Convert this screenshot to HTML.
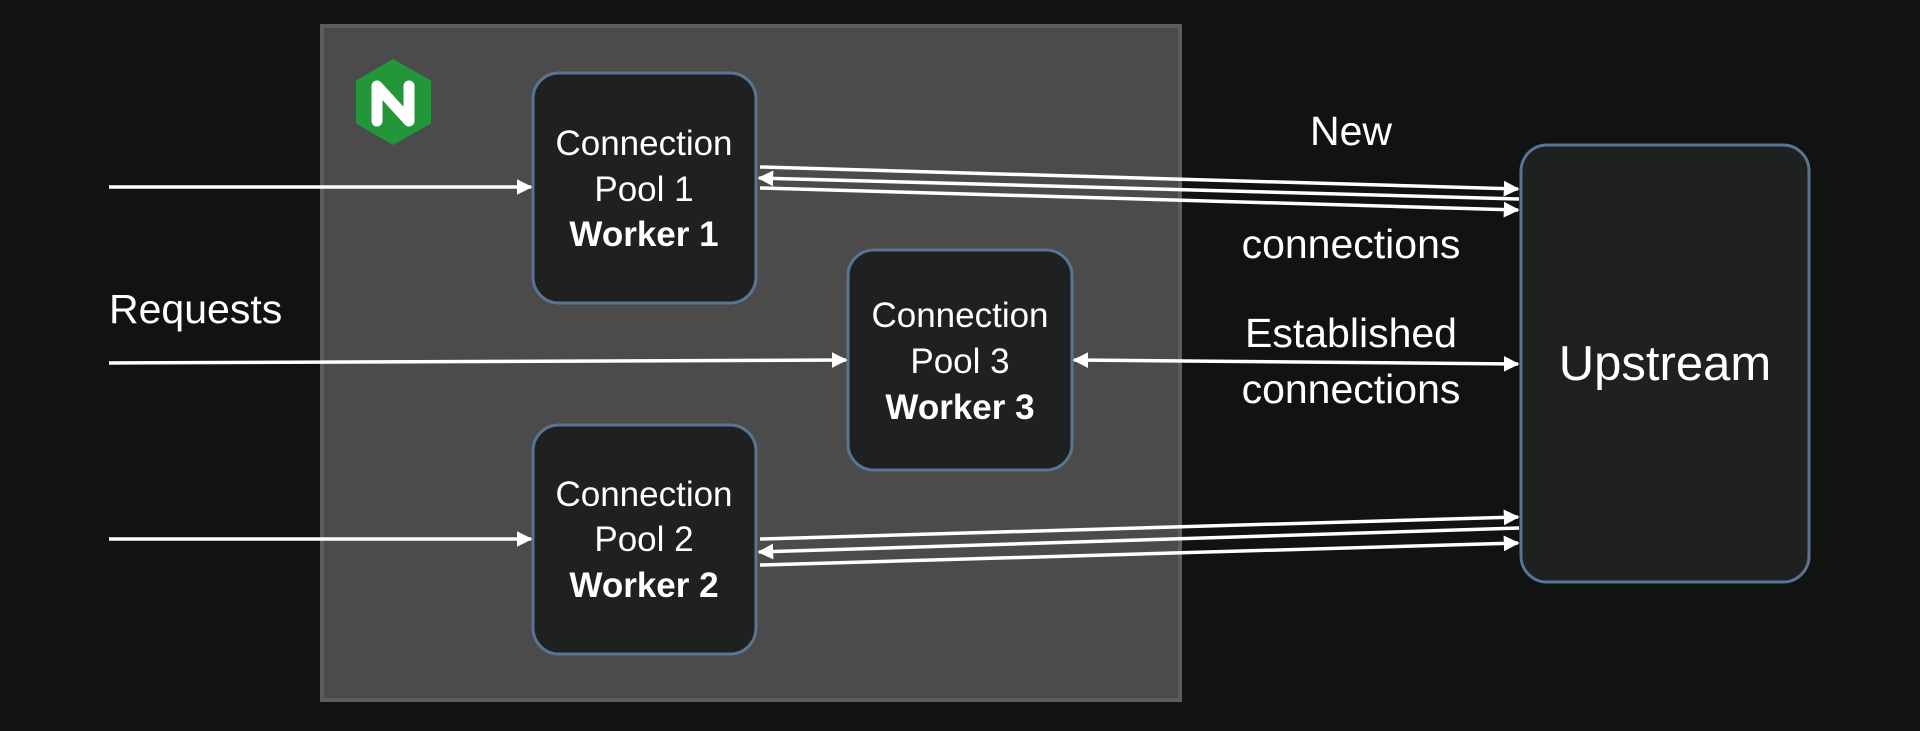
<!DOCTYPE html>
<html><head><meta charset="utf-8"><style>
html,body{margin:0;padding:0;background:#111212;}
svg{display:block;}
text{font-family:"Liberation Sans",sans-serif;fill:#fff;}
</style></head><body>
<svg width="1920" height="731" viewBox="0 0 1920 731" xmlns="http://www.w3.org/2000/svg">
<defs>
<marker id="a" viewBox="0 0 10 10" refX="9" refY="5" markerWidth="4.5" markerHeight="4.5" orient="auto-start-reverse" markerUnits="strokeWidth">
<path d="M0,0 L10,5 L0,10 Z" fill="#fff"/></marker>
</defs>
<rect width="1920" height="731" fill="#111212"/>
<rect x="322" y="26" width="858" height="674" fill="#4a4b4a" stroke="#5c5e5d" stroke-width="4"/>
<polygon points="393,59 431,80.5 431,123.5 393,145 356,123.5 356,80.5" fill="#23963a"/>
<path d="M377,121 V86 L409,121 V86" stroke="#fff" stroke-width="11" fill="none" stroke-linecap="round" stroke-linejoin="round"/>
<g fill="#1f2020" stroke="#5a7592" stroke-width="3">
<rect x="533" y="73" width="223" height="230" rx="26"/>
<rect x="533" y="425" width="223" height="229" rx="26"/>
<rect x="848" y="250" width="224" height="220" rx="26"/>
<rect x="1521" y="145" width="288" height="437" rx="26"/>
</g>
<g stroke="#fff" stroke-width="3.5" fill="none">
<line x1="109" y1="187" x2="531" y2="187" marker-end="url(#a)"/>
<line x1="109" y1="363" x2="846" y2="360" marker-end="url(#a)"/>
<line x1="109" y1="539" x2="531" y2="539" marker-end="url(#a)"/>
<line x1="760" y1="167" x2="1518" y2="189" marker-end="url(#a)"/>
<line x1="1519" y1="199" x2="759" y2="178" marker-end="url(#a)"/>
<line x1="760" y1="188" x2="1518" y2="210" marker-end="url(#a)"/>
<line x1="1074" y1="360" x2="1518" y2="364" marker-start="url(#a)" marker-end="url(#a)"/>
<line x1="760" y1="539" x2="1518" y2="517" marker-end="url(#a)"/>
<line x1="1519" y1="528" x2="759" y2="552" marker-end="url(#a)"/>
<line x1="760" y1="565" x2="1518" y2="543" marker-end="url(#a)"/>
</g>
<g font-size="35" text-anchor="middle">
<text x="644" y="155">Connection</text>
<text x="644" y="201">Pool 1</text>
<text x="644" y="246" font-weight="bold">Worker 1</text>
<text x="644" y="506">Connection</text>
<text x="644" y="551">Pool 2</text>
<text x="644" y="597" font-weight="bold">Worker 2</text>
<text x="960" y="327">Connection</text>
<text x="960" y="373">Pool 3</text>
<text x="960" y="419" font-weight="bold">Worker 3</text>
</g>
<g font-size="41" text-anchor="middle">
<text x="1351" y="145">New</text>
<text x="1351" y="258">connections</text>
<text x="1351" y="347">Established</text>
<text x="1351" y="403">connections</text>
</g>
<text x="109" y="323" font-size="41">Requests</text>
<text x="1665" y="380" font-size="49" text-anchor="middle">Upstream</text>
</svg>
</body></html>
